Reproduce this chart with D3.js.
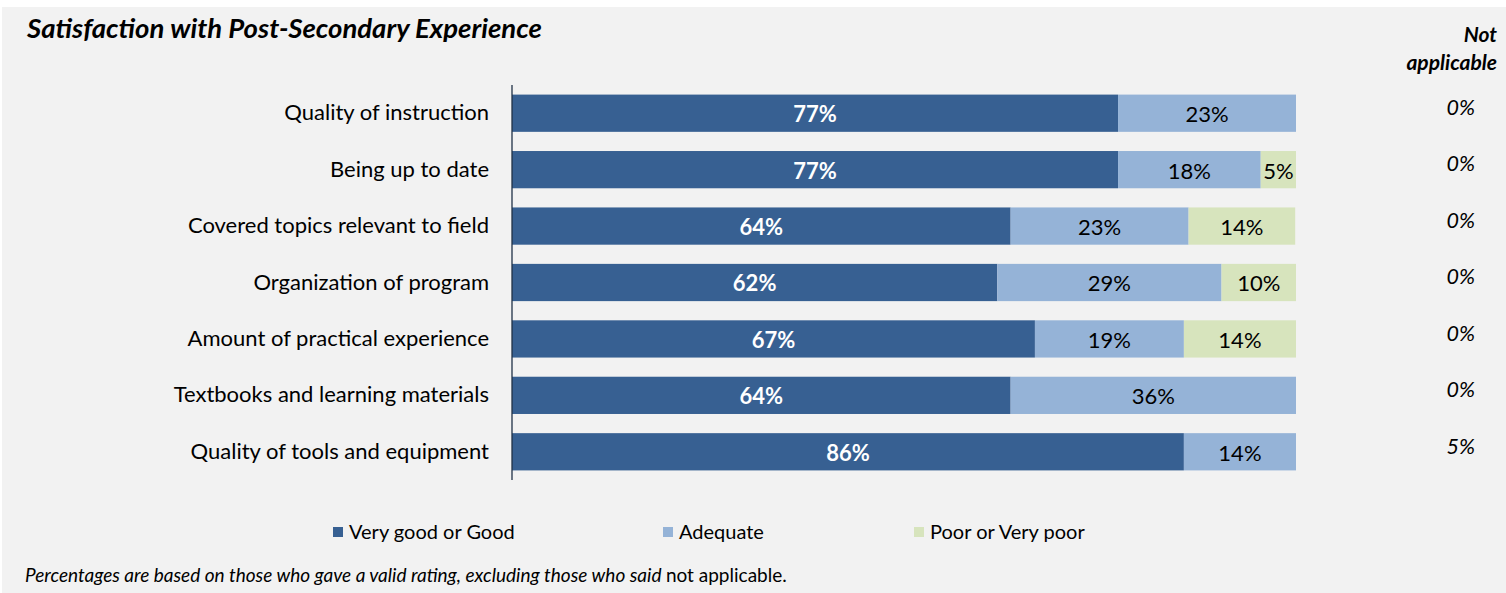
<!DOCTYPE html>
<html>
<head>
<meta charset="utf-8">
<script src="https://cdn.jsdelivr.net/npm/d3@7"></script>
<style>
  body { margin: 0; background: #ffffff; }
  svg text { font-family: Lato, "Open Sans", sans-serif; }
</style>
</head>
<body>
<div id="chart"></div>
<script>
// Data
// -------------------
let categories = [
  "Quality of instruction",
  "Being up to date",
  "Covered topics relevant to field",
  "Organization of program",
  "Amount of practical experience",
  "Textbooks and learning materials",
  "Quality of tools and equipment"
];
let series_names = ["Very good or Good", "Adequate", "Poor or Very poor"];
let very_good = [77.3, 77.3, 63.6, 61.9, 66.7, 63.6, 85.7];
let adequate  = [22.7, 18.2, 22.7, 28.6, 19.0, 36.4, 14.3];
let poor      = [0,    4.5,  13.6, 9.5,  14.3, 0,    0];
let not_applicable = ["0%", "0%", "0%", "0%", "0%", "0%", "5%"];
let colors = ["#376092", "#95b3d7", "#d7e4bd"];
// -------------------

let width = 1506, height = 593;

let svg_obj = d3.select("#chart")
  .append("svg")
    .attr("width", width)
    .attr("height", height);

// Background
svg_obj.append("rect")
  .attr("x", 2).attr("y", 7)
  .attr("width", width - 2).attr("height", height - 7)
  .attr("fill", "#f2f2f2");

// Title
svg_obj.append("text")
  .attr("x", 27).attr("y", 38)
  .attr("font-size", 27.5).attr("font-weight", "bold").attr("font-style", "italic")
  .attr("fill", "#000")
  .text("Satisfaction with Post-Secondary Experience");

// Scales
let x = d3.scaleLinear().domain([0, 100]).range([512, 1296]);
let y = d3.scaleBand().domain(categories).range([85, 480])
  .paddingInner(0.34).paddingOuter(0.17);

// Stack
let rows = categories.map((c, i) => ({
  cat: c, s0: very_good[i], s1: adequate[i], s2: poor[i]
}));
let stack = d3.stack().keys(["s0", "s1", "s2"])(rows);

let layers = svg_obj.selectAll("g.layer")
  .data(stack).enter().append("g")
    .attr("class", "layer")
    .attr("fill", (d, i) => colors[i]);

layers.selectAll("rect")
  .data(d => d.filter(p => p[1] - p[0] > 0))
  .enter().append("rect")
    .attr("x", d => x(d[0]))
    .attr("y", d => y(d.data.cat))
    .attr("width", d => x(d[1]) - x(d[0]))
    .attr("height", y.bandwidth());

layers.each(function(layer, li) {
  d3.select(this).selectAll("text")
    .data(layer.filter(p => p[1] - p[0] > 0))
    .enter().append("text")
      .attr("x", d => (x(d[0]) + x(d[1])) / 2)
      .attr("y", d => y(d.data.cat) + y.bandwidth() / 2 + 1)
      .attr("dy", "0.36em")
      .attr("text-anchor", "middle")
      .attr("font-size", 22)
      .attr("font-weight", li === 0 ? "bold" : "normal")
      .attr("fill", li === 0 ? "#ffffff" : "#000000")
      .text(d => Math.round(d[1] - d[0]) + "%");
});

// Category axis
let y_axis = svg_obj.append("g")
  .attr("transform", "translate(512,0)")
  .call(d3.axisLeft(y).tickSize(0).tickPadding(23));
y_axis.select(".domain").attr("stroke", "#1f3046").attr("stroke-width", 1.3)
  .attr("d", "M0,85V480");
y_axis.selectAll("text")
  .attr("font-size", 22).attr("fill", "#000")
  .style("font-family", "Lato, 'Open Sans', sans-serif");

// Not applicable column
svg_obj.append("text")
  .attr("x", 1497).attr("y", 42)
  .attr("text-anchor", "end")
  .attr("font-size", 21).attr("font-weight", "bold").attr("font-style", "italic")
  .text("Not");
svg_obj.append("text")
  .attr("x", 1497).attr("y", 70)
  .attr("text-anchor", "end")
  .attr("font-size", 21).attr("font-weight", "bold").attr("font-style", "italic")
  .text("applicable");
svg_obj.selectAll("text.na")
  .data(categories).enter().append("text")
    .attr("class", "na")
    .attr("x", 1475)
    .attr("y", d => y(d) + y.bandwidth() / 2 - 6)
    .attr("dy", "0.36em")
    .attr("text-anchor", "end")
    .attr("font-size", 21.5).attr("font-style", "italic")
    .text((d, i) => not_applicable[i]);

// Legend
let legend_x = [333, 663, 914];
let legend = svg_obj.selectAll("g.legend")
  .data(series_names).enter().append("g")
    .attr("class", "legend")
    .attr("transform", (d, i) => "translate(" + legend_x[i] + ",532)");
legend.append("rect")
  .attr("x", 0).attr("y", -5)
  .attr("width", 10).attr("height", 10)
  .attr("fill", (d, i) => colors[i]);
legend.append("text")
  .attr("x", 16).attr("dy", "0.36em")
  .attr("font-size", 20)
  .text(d => d);

// Footnote
let foot = svg_obj.append("text")
  .attr("x", 25).attr("y", 582)
  .attr("font-size", 19);
foot.append("tspan").attr("font-style", "italic")
  .text("Percentages are based on those who gave a valid rating, excluding those who said ");
foot.append("tspan").text(" not applicable.");
</script>
</body>
</html>
